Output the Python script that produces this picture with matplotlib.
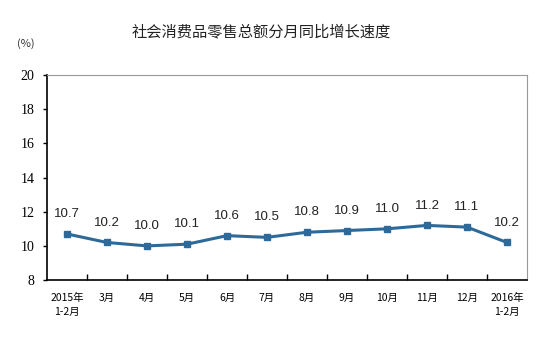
import matplotlib
matplotlib.use("Agg")
import matplotlib.pyplot as plt

plt.rcParams['font.family'] = ['Noto Sans CJK SC', 'DejaVu Sans']

# data
months = ["2015年\n1-2月", "3月", "4月", "5月", "6月", "7月", "8月",
          "9月", "10月", "11月", "12月", "2016年\n1-2月"]
growth = [10.7, 10.2, 10.0, 10.1, 10.6, 10.5, 10.8, 10.9, 11.0, 11.2, 11.1, 10.2]
y_ticks = [8, 10, 12, 14, 16, 18, 20]

line_color = "#2d6a99"

fig = plt.figure(figsize=(5.53, 3.37), dpi=100)
ax = fig.add_axes([0.085, 0.169, 0.868, 0.608])

x = list(range(len(months)))
ax.plot(x, growth, color=line_color, linewidth=2.2, marker="s", markersize=5,
        markerfacecolor=line_color, markeredgecolor=line_color)

for xi, v in zip(x, growth):
    ax.annotate(f"{v:.1f}", (xi, v), xytext=(0, 10), textcoords="offset points",
                ha="center", va="bottom", fontsize=9.5, family="Liberation Sans",
                color="#222222")

ax.set_xlim(-0.5, len(months) - 0.5)
ax.set_ylim(8, 20)
ax.set_yticks(y_ticks)
ax.set_yticklabels([str(t) for t in y_ticks], family="Liberation Serif", fontsize=10)

# category labels centred, tick marks between categories
ax.set_xticks([i + 0.5 for i in range(len(months) - 1)])
ax.set_xticklabels([])
ax.set_xticks(x, minor=True)
ax.set_xticklabels(months, minor=True, fontsize=7.5, linespacing=1.5)
ax.tick_params(axis="x", which="minor", length=0, pad=9)
ax.tick_params(axis="x", which="major", direction="in", length=4, width=1)
ax.tick_params(axis="y", direction="out", length=3, width=1, pad=6)

for side in ["top", "right"]:
    ax.spines[side].set_color("#999999")
    ax.spines[side].set_linewidth(0.8)
for side in ["left", "bottom"]:
    ax.spines[side].set_color("black")
    ax.spines[side].set_linewidth(1.2)

fig.text(0.472, 0.905, "社会消费品零售总额分月同比增长速度", ha="center", va="center",
         fontsize=11, color="#222222")
fig.text(0.047, 0.872, "(%)", ha="center", va="center", fontsize=8, color="#333333")

fig.savefig("out.png", dpi=100)
